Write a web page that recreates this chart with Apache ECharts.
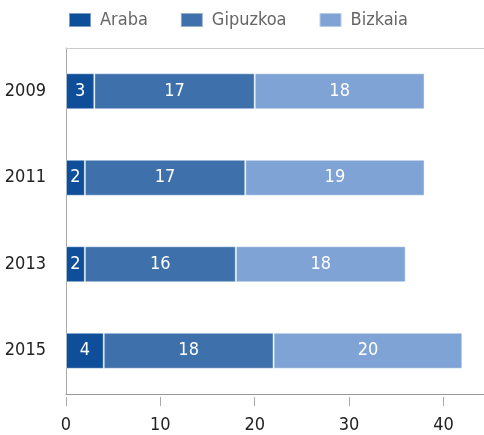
<!DOCTYPE html>
<html>
<head>
<meta charset="utf-8">
<script src="https://cdn.jsdelivr.net/npm/echarts@6/dist/echarts.min.js"></script>
<style>
  html, body { margin: 0; padding: 0; background: #fff; }
  #chart { width: 484px; height: 435px; }
</style>
</head>
<body>
<div id="chart"></div>
<script>
// datos
const years = ['2009', '2011', '2013', '2015'];
const araba = [3, 2, 2, 4];
const gipuzkoa = [17, 17, 16, 18];
const bizkaia = [18, 19, 18, 20];
const xTicks = [0, 10, 20, 30, 40];

const FONT = '"Liberation Sans Narrow", "DejaVu Sans Condensed", sans-serif';
const X_MAX = 44.3;

const myChart = echarts.init(document.getElementById('chart'));

function barSeries(name, data, color) {
  return {
    name: name,
    type: 'bar',
    stack: 'total',
    data: data,
    barWidth: 36,
    itemStyle: { color: color, borderColor: 'rgba(255,255,255,0.45)', borderWidth: 1 },
    label: {
      show: true,
      position: 'inside',
      color: '#fff',
      fontFamily: FONT,
      fontSize: 18
    }
  };
}

// eje auxiliar (solo línea o solo marcas)
function extraAxis(position, offset, showLine, showTick) {
  return {
    type: 'value',
    position: position,
    offset: offset,
    min: 0,
    max: X_MAX,
    interval: 10,
    axisLine: { show: showLine, lineStyle: { color: '#ccc' } },
    axisTick: {
      show: showTick,
      length: 9,
      lineStyle: { color: '#aaa' },
      customValues: xTicks
    },
    axisLabel: { show: false },
    splitLine: { show: false }
  };
}

const option = {
  animation: false,
  legend: {
    top: 6,
    left: 63,
    itemWidth: 22,
    itemHeight: 14,
    itemGap: 32,
    icon: 'rect',
    textStyle: { color: '#666', fontFamily: FONT, fontSize: 18, padding: [0, 0, 0, 4] },
    data: ['Araba', 'Gipuzkoa', 'Bizkaia']
  },
  grid: {
    left: 66,
    right: 0,
    top: 48,
    bottom: 41
  },
  xAxis: [
    {
      type: 'value',
      min: 0,
      max: X_MAX,
      interval: 10,
      axisLine: { show: true, lineStyle: { color: '#999' } },
      axisTick: { show: false },
      axisLabel: {
        color: '#222',
        fontFamily: FONT,
        fontSize: 18,
        margin: 22,
        customValues: xTicks
      },
      splitLine: { show: false }
    },
    extraAxis('bottom', 3, false, true),
    extraAxis('top', 0, true, false)
  ],
  yAxis: {
    type: 'category',
    inverse: true,
    data: years,
    axisLine: { show: true, lineStyle: { color: '#aaa' } },
    axisTick: { show: false },
    axisLabel: { color: '#222', fontFamily: FONT, fontSize: 18, margin: 20 }
  },
  series: [
    barSeries('Araba', araba, '#0f4e99'),
    barSeries('Gipuzkoa', gipuzkoa, '#3e70ac'),
    barSeries('Bizkaia', bizkaia, '#7fa3d4')
  ]
};

myChart.setOption(option);
</script>
</body>
</html>
